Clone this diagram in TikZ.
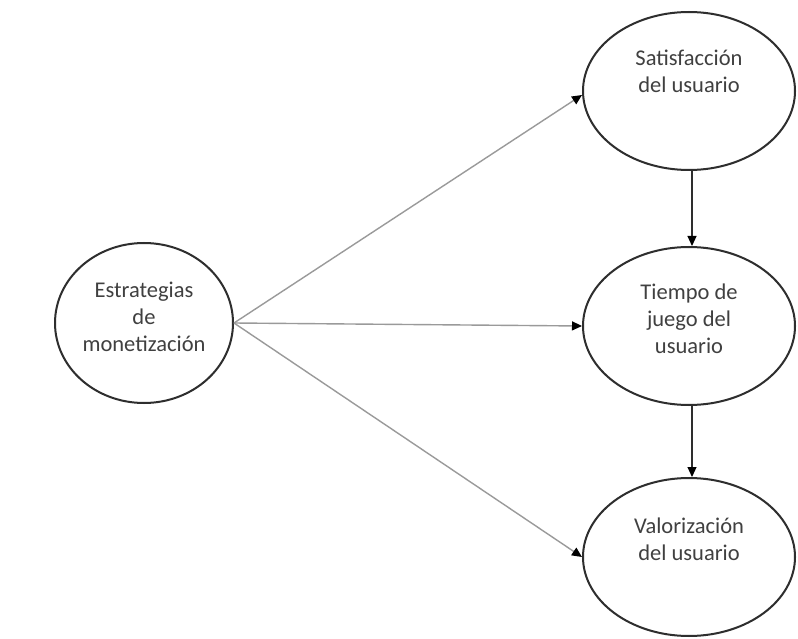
\documentclass[tikz,border=0pt]{standalone}
\usepackage{fontspec}
\setmainfont{Carlito}
\usetikzlibrary{shapes.geometric,arrows.meta}
\definecolor{txt}{HTML}{404040}
\definecolor{edge}{HTML}{2E2E2E}
\definecolor{lgray}{HTML}{9A9A9A}
\tikzset{
  oval/.style={ellipse,draw=edge,line width=2pt,inner sep=0pt,fill=white},
  lbl/.style={align=center,text=txt,font=\fontsize{22.5}{27}\selectfont,inner sep=0pt},
  grayarrow/.style={draw=lgray,line width=1.4pt,-{Triangle[length=10pt,width=9pt,color=black]}},
  darkarrow/.style={draw=edge,line width=1.1pt,-{Triangle[length=10pt,width=9pt,color=black]}}
}
\begin{document}
\begin{tikzpicture}[x=1pt,y=-1pt]
\useasboundingbox (0,0) rectangle (798,639);
\fill[white] (0,0) rectangle (798,639);
\node[oval,minimum width=178pt,minimum height=160pt] (E) at (144,323) {};
\node[oval,minimum width=212pt,minimum height=158pt] (S) at (689,91) {};
\node[oval,minimum width=212pt,minimum height=158pt] (T) at (689,326) {};
\node[oval,minimum width=212pt,minimum height=158pt] (V) at (689,557) {};
\node[lbl] (Et) at (144,317) {Estrategias\\de\\monetización};
\node[lbl] (St) at (689,71) {Satisfacción\\del usuario};
\node[lbl] (Tt) at (689,319) {Tiempo de\\juego del\\usuario};
\node[lbl] (Vt) at (689,539) {Valorización\\del usuario};
\draw[grayarrow] (E.east) -- ([yshift=-4pt]S.west);
\draw[grayarrow] (E.east) -- (T.west);
\draw[grayarrow] (E.east) -- (V.west);
\draw[darkarrow] ([xshift=3pt]S.south) -- ([xshift=3pt]T.north);
\draw[darkarrow] ([xshift=3pt]T.south) -- ([xshift=3pt]V.north);
\end{tikzpicture}
\end{document}
